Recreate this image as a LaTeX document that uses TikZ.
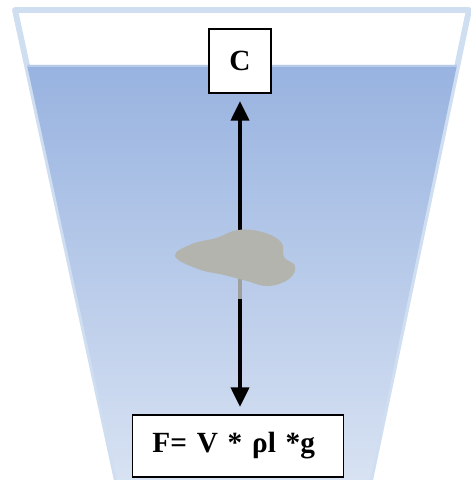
\documentclass[tikz,border=0pt]{standalone}
\usepackage{fontspec}
\setmainfont{Liberation Serif}
\usetikzlibrary{arrows.meta, positioning}
\definecolor{watertop}{HTML}{98B3E0}
\definecolor{waterbot}{HTML}{D9E3F3}
\definecolor{wallblue}{HTML}{D0DEF2}
\definecolor{blobgray}{HTML}{B4B4AE}

\tikzset{
  labelbox/.style={draw=black, line width=1.5pt, fill=white,
    font=\fontsize{25}{30}\selectfont\bfseries},
  force/.style={line width=4.2pt, -{Triangle[length=17pt, width=15pt]}},
}

\begin{document}
\begin{tikzpicture}[x=0.03cm, y=-0.03cm]
  % Frame: 470 x 480 px, 1 unit = 1 px
  \useasboundingbox (0,0) rectangle (470,480);

  % Container walls
  \draw[wallblue, line width=5pt, line join=round]
    (119,490) -- (15,10) -- (469,10) -- (368,490);

  % Water (darker at the surface)
  \shade[top color=watertop, bottom color=waterbot]
    (27,65) -- (457,65) -- (368,490) -- (119,490) -- cycle;
  \draw[watertop!70!white, line width=1.2pt] (27,66) -- (457,66);

  % Labels
  \node[labelbox, minimum width=53.5pt, minimum height=54.4pt,
    inner sep=0pt] (C) at (240,61) {C};
  \node[labelbox, minimum height=52.7pt, text width=146pt,
    inner xsep=17pt, align=left] (F) at (238,446) {F= V * ρl *g};

  % Points on the body where the forces start
  \coordinate (blob) at (240,258);
  \coordinate (blobtop) at (240,236);
  \coordinate (blobbot) at (240,299);

  % Forces
  \draw[force, shorten >=6pt] (blobtop) -- (blobtop |- C.south);
  \draw[force, shorten >=6pt] (blobbot) -- (blobbot |- F.north);
  \draw[gray!75, line width=3pt] (blob) -- (blobbot);

  % Body
  \fill[blobgray] plot[smooth cycle, tension=0.7] coordinates {
    (175,256) (192,244) (216,238) (238,230) (262,232) (281,242)
    (284,257) (295,266) (289,279) (268,286) (247,281) (224,275)
    (198,269)};

\end{tikzpicture}
\end{document}
